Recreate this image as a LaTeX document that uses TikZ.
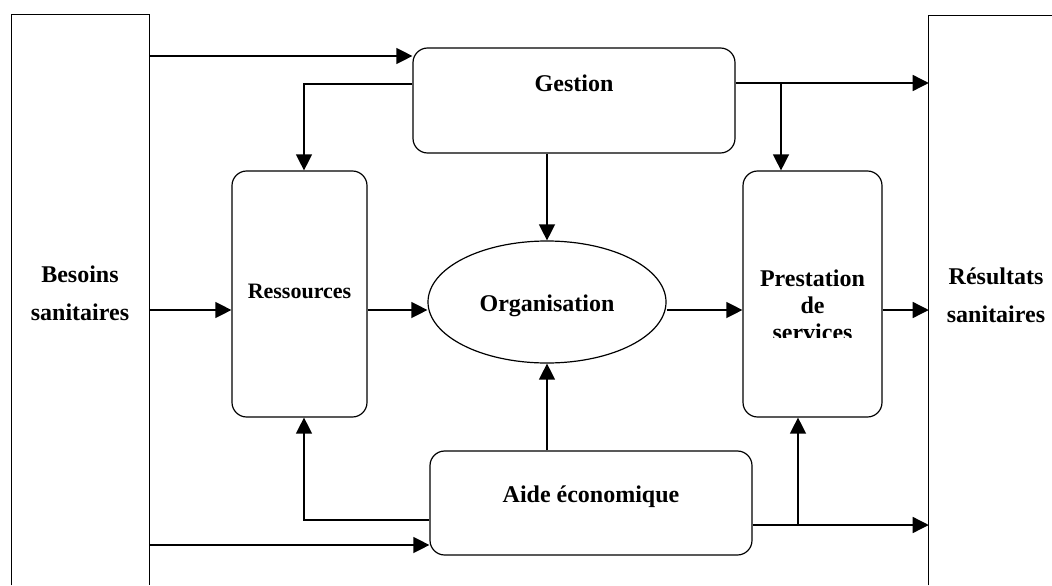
\documentclass[tikz,border=0pt]{standalone}
\usepackage{fontspec}
\setmainfont{Liberation Serif}
\usetikzlibrary{arrows.meta,shapes.geometric,fit,calc}
\begin{document}
\begin{tikzpicture}[x=0.75pt,y=-0.75pt,
  box/.style={draw,rounded corners=11pt,line width=0.9pt,inner sep=0pt},
  plain/.style={inner sep=0pt},
  frame/.style={line width=1pt},
  conn/.style={line width=1pt,-{Triangle[length=12pt,width=12pt]}},
  lbl/.style={font=\fontsize{18}{20}\selectfont\bfseries,inner sep=0pt},
]
\useasboundingbox (0,0) rectangle (1052,585);

% shapes
\node[plain,fit={(12,15) (149,585)}] (besoins) {};
\node[plain,fit={(929,16) (1060,585)}] (resultats) {};
\node[box,fit={(413,48) (735,153)}] (gestion) {};
\node[box,fit={(232,171) (367,417)}] (ressources) {};
\node[box,fit={(743,171) (882,417)}] (prestation) {};
\node[box,fit={(430,451) (752,555)}] (aide) {};
\node[draw,ellipse,line width=0.9pt,inner sep=0pt,minimum width=178.5pt,minimum height=91.5pt] (organisation) at (547,302) {};

\draw[frame] (besoins.south west) -- (besoins.north west) -- (besoins.north east) -- (besoins.south east);
\draw[frame] (resultats.south west) -- (resultats.north west) -- (resultats.north east);

% texts
\node[lbl,anchor=base] (gestiontxt) at (574,91) {Gestion};
\node[lbl,anchor=base,font=\fontsize{16.5}{20}\selectfont\bfseries] (ressourcestxt) at (299.5,298) {Ressources};
\node[lbl,anchor=base] (organisationtxt) at (547,311) {Organisation};
\node[lbl,anchor=base] (aidetxt) at (591,502) {Aide économique};
\node[lbl,align=center,font=\fontsize{18}{28.5}\selectfont\bfseries] (besoinstxt) at (80,293) {Besoins\\sanitaires};
\node[lbl,align=center,font=\fontsize{18}{28.5}\selectfont\bfseries] (resultatstxt) at (996,295) {Résultats\\sanitaires};
\begin{scope}
  \clip (743,171) rectangle (882,337);
  \node[lbl,align=center,font=\fontsize{18}{20.25}\selectfont\bfseries] (prestationtxt) at (812.5,305) {Prestation\\de\\services};
\end{scope}

% helper coordinates
\coordinate (y56) at (0,56);
\coordinate (y84) at (0,84);
\coordinate (y83) at (0,83);
\coordinate (y310) at (0,310);
\coordinate (y520) at (0,520);
\coordinate (y525) at (0,525);
\coordinate (y545) at (0,545);
\coordinate (xl) at (304,0);
\coordinate (xr) at (781,0);
\coordinate (xb) at (798,0);

% connectors
\draw[conn] (besoins.east |- y56) -- (gestion.west |- y56);
\draw[conn] (gestion.west |- y84) -| (xl |- ressources.north);
\draw[conn] (gestion.east |- y83) -- (resultats.west |- y83);
\draw[conn] (xr |- y83) -- (xr |- prestation.north);
\draw[conn] (organisation.north |- gestion.south) -- (organisation.north);
\draw[conn] (besoins.east |- y310) -- (ressources.west |- y310);
\draw[conn] (ressources.east |- y310) -- (organisation.west |- y310);
\draw[conn] (organisation.east |- y310) -- (prestation.west |- y310);
\draw[conn] (prestation.east |- y310) -- (resultats.west |- y310);
\draw[conn] (organisation.south |- aide.north) -- (organisation.south);
\draw[conn] (aide.west |- y520) -| (xl |- ressources.south);
\draw[conn] (besoins.east |- y545) -- (aide.west |- y545);
\draw[conn] (aide.east |- y525) -- (resultats.west |- y525);
\draw[conn] (xb |- y525) -- (xb |- prestation.south);
\end{tikzpicture}
\end{document}
